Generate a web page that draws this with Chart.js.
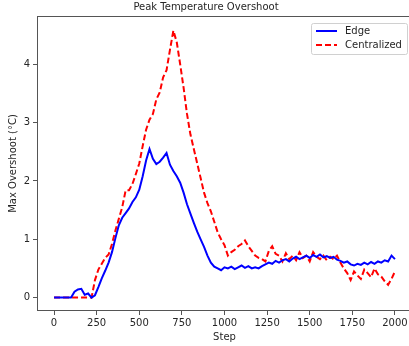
<!DOCTYPE html>
<html>
<head>
<meta charset="utf-8">
<script src="https://cdn.jsdelivr.net/npm/chart.js@4"></script>
<style>
    html, body { margin: 0; padding: 0; background: #fff; overflow: hidden; }
    #wrap { width: 412px; height: 346px; }
</style>
</head>
<body>
<div id="wrap"><canvas id="overshoot-chart"></canvas></div>
<script>
const steps = [0, 20, 40, 60, 80, 100, 120, 140, 160, 180, 200, 220, 240, 260, 280,
    300, 320, 340, 360, 380, 400, 420, 440, 460, 480, 500, 520, 540, 560, 580,
    600, 620, 640, 660, 680, 700, 720, 740, 760, 780, 800, 820, 840, 860, 880,
    900, 920, 940, 960, 980, 1000, 1020, 1040, 1060, 1080, 1100, 1120, 1140, 1160, 1180,
    1200, 1220, 1240, 1260, 1280, 1300, 1320, 1340, 1360, 1380, 1400, 1420, 1440, 1460, 1480,
    1500, 1520, 1540, 1560, 1580, 1600, 1620, 1640, 1660, 1680, 1700, 1720, 1740, 1760, 1780,
    1800, 1820, 1840, 1860, 1880, 1900, 1920, 1940, 1960, 1980, 2000];

const edgeValues = [0, 0, 0, 0, 0, 0, 0.10, 0.14, 0.15, 0.05, 0.07, 0, 0.04, 0.18, 0.33,
    0.46, 0.60, 0.78, 1.02, 1.24, 1.37, 1.45, 1.53, 1.64, 1.72, 1.85, 2.08, 2.35, 2.55, 2.38,
    2.29, 2.33, 2.40, 2.48, 2.28, 2.17, 2.08, 1.97, 1.80, 1.60, 1.44, 1.28, 1.13, 1.00, 0.87,
    0.72, 0.60, 0.53, 0.50, 0.47, 0.52, 0.50, 0.53, 0.49, 0.52, 0.55, 0.51, 0.54, 0.50, 0.52,
    0.50, 0.54, 0.57, 0.60, 0.58, 0.63, 0.60, 0.64, 0.66, 0.62, 0.67, 0.70, 0.66, 0.69, 0.72,
    0.68, 0.73, 0.70, 0.74, 0.69, 0.71, 0.68, 0.70, 0.65, 0.63, 0.60, 0.62, 0.57, 0.55, 0.58,
    0.56, 0.60, 0.57, 0.61, 0.58, 0.62, 0.60, 0.64, 0.62, 0.72, 0.66];

const centralValues = [0, 0, 0, 0, 0, 0, 0, 0, 0, 0, 0, 0, 0.30, 0.48, 0.58,
    0.68, 0.74, 0.92, 1.15, 1.35, 1.55, 1.84, 1.84, 1.95, 2.12, 2.30, 2.60, 2.88, 3.05, 3.15,
    3.40, 3.52, 3.78, 3.90, 4.25, 4.58, 4.38, 4.00, 3.60, 3.15, 2.80, 2.55, 2.30, 2.05, 1.80,
    1.62, 1.48, 1.30, 1.12, 1.00, 0.90, 0.72, 0.78, 0.82, 0.88, 0.92, 0.98, 0.88, 0.80, 0.72,
    0.68, 0.66, 0.62, 0.80, 0.88, 0.75, 0.72, 0.62, 0.76, 0.66, 0.72, 0.64, 0.78, 0.68, 0.72,
    0.62, 0.78, 0.70, 0.66, 0.72, 0.64, 0.70, 0.66, 0.72, 0.60, 0.50, 0.42, 0.30, 0.45, 0.38,
    0.32, 0.48, 0.42, 0.35, 0.50, 0.40, 0.36, 0.28, 0.22, 0.32, 0.45];

const xTicks = [0, 250, 500, 750, 1000, 1250, 1500, 1750, 2000];
const yTicks = [0, 1, 2, 3, 4];

const FONT = "'DejaVu Sans', sans-serif";
const TEXT = '#262626';

// matplotlib style frame round the plot area
const frameBox = {
    id: 'frameBox',
    afterDatasetsDraw(chart) {
        const { ctx, chartArea: a } = chart;
        ctx.save();
        ctx.strokeStyle = '#555';
        ctx.lineWidth = 1;
        ctx.strokeRect(a.left + 0.5, a.top + 0.5, a.right - a.left - 1, a.bottom - a.top - 1);
        ctx.restore();
    }
};

// legend box in the upper right corner
const boxLegend = {
    id: 'boxLegend',
    afterDraw(chart) {
        const { ctx, chartArea: a } = chart;
        const right = a.right - 5, top = a.top + 7;
        const w = 96, h = 31;
        const left = right - w;
        ctx.save();
        ctx.fillStyle = 'rgba(255,255,255,0.8)';
        ctx.strokeStyle = '#d0d0d0';
        ctx.lineWidth = 1;
        ctx.beginPath();
        ctx.roundRect(left + 0.5, top + 0.5, w, h, 2);
        ctx.fill();
        ctx.stroke();
        ctx.font = '10px ' + FONT;
        ctx.textBaseline = 'middle';
        chart.data.datasets.forEach((ds, i) => {
            const y = top + 8 + i * 14;
            ctx.strokeStyle = ds.borderColor;
            ctx.lineWidth = 2;
            ctx.setLineDash(ds.borderDash || []);
            ctx.beginPath();
            ctx.moveTo(left + 5, y);
            ctx.lineTo(left + 26, y);
            ctx.stroke();
            ctx.setLineDash([]);
            ctx.fillStyle = TEXT;
            ctx.fillText(ds.label, left + 34, y);
        });
        ctx.restore();
    }
};

const overshootCanvas = document.getElementById('overshoot-chart');
let overshootChart = new Chart(overshootCanvas, {
    type: 'line',
    data: {
        labels: steps,
        datasets: [{
            label: 'Edge',
            data: edgeValues,
            borderColor: '#0000ff',
            borderWidth: 2,
            pointRadius: 0,
            tension: 0,
            fill: false
        }, {
            label: 'Centralized',
            data: centralValues,
            borderColor: '#ff0000',
            borderWidth: 2,
            borderDash: [6, 3],
            pointRadius: 0,
            tension: 0,
            fill: false
        }]
    },
    options: {
        responsive: true,
        maintainAspectRatio: false,
        animation: false,
        layout: { padding: 0 },
        scales: {
            x: {
                type: 'linear',
                min: -100,
                max: 2100,
                afterBuildTicks: axis => { axis.ticks = xTicks.map(v => ({ value: v })); },
                afterFit: scale => { scale.height = 35; },
                grid: { drawOnChartArea: false, drawTicks: true, tickLength: 4, color: '#555' },
                border: { display: false },
                ticks: {
                    color: TEXT,
                    font: { family: FONT, size: 10 },
                    padding: 2,
                    maxRotation: 0,
                    callback: v => String(v)
                },
                title: { display: true, text: 'Step', color: TEXT, font: { family: FONT, size: 10 }, padding: { top: 0, bottom: 3 } }
            },
            y: {
                min: -0.23,
                max: 4.83,
                afterBuildTicks: axis => { axis.ticks = yTicks.map(v => ({ value: v })); },
                afterFit: scale => { scale.width = 37; },
                grid: { drawOnChartArea: false, drawTicks: true, tickLength: 4, color: '#555' },
                border: { display: false },
                ticks: { color: TEXT, font: { family: FONT, size: 10 }, padding: 3, callback: v => String(v) },
                title: { display: true, text: 'Max Overshoot (°C)', color: TEXT, font: { family: FONT, size: 10 }, padding: { top: 7, bottom: 0 } }
            }
        },
        plugins: {
            legend: { display: false },
            tooltip: { enabled: false },
            title: {
                display: true,
                text: 'Peak Temperature Overshoot',
                color: TEXT,
                font: { family: FONT, size: 10, weight: 'normal' },
                padding: { top: 1, bottom: 3 }
            }
        }
    },
    plugins: [frameBox, boxLegend]
});
</script>
</body>
</html>
